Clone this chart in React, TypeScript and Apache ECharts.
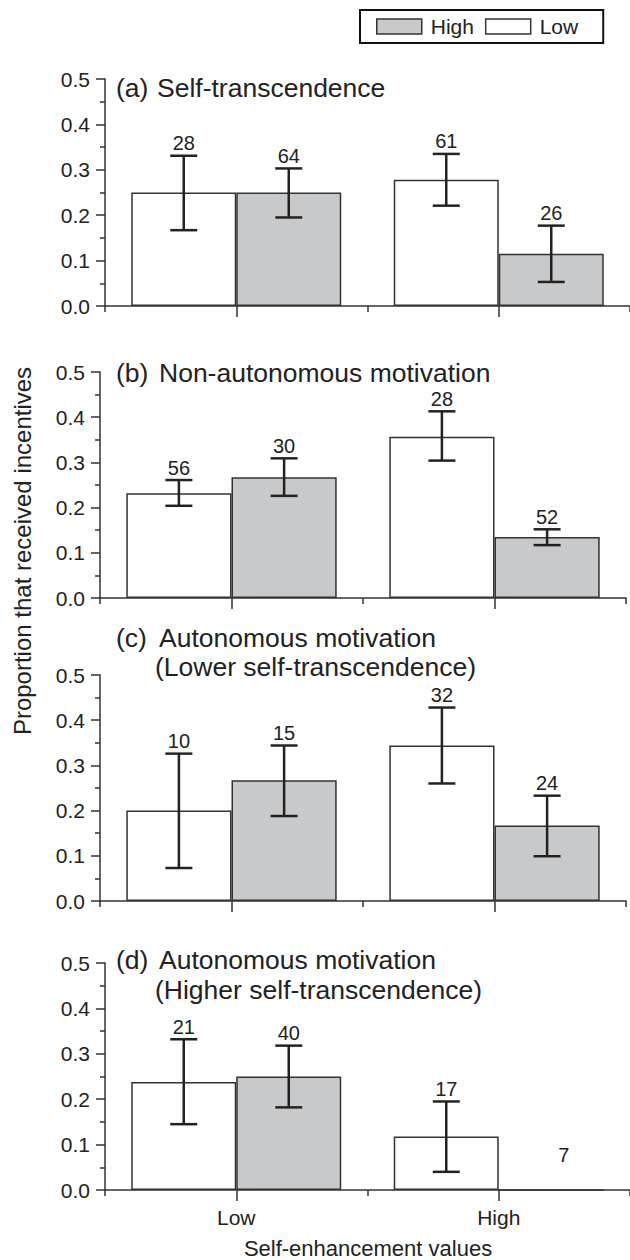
import React, { useEffect, useRef } from "react";
import * as echarts from "echarts";

const FONT = '"Liberation Sans", Arial, Helvetica, sans-serif';
const INK = "#222";
const GRAY = "#c8c9cb";

const categories = ["Low", "High"];
const yTicks = [0, 0.1, 0.2, 0.3, 0.4, 0.5];

// (a) Self-transcendence
const aLowMean = [0.25, 0.278];
const aHighMean = [0.25, 0.115];
const aLowErr = [[0.167, 0.331], [0.221, 0.335]];
const aHighErr = [[0.195, 0.303], [0.053, 0.177]];
const aLowN = [28, 61];
const aHighN = [64, 26];

// (b) Non-autonomous motivation
const bLowMean = [0.232, 0.357];
const bHighMean = [0.267, 0.135];
const bLowErr = [[0.204, 0.261], [0.304, 0.413]];
const bHighErr = [[0.226, 0.309], [0.117, 0.152]];
const bLowN = [56, 28];
const bHighN = [30, 52];

// (c) Autonomous motivation (Lower self-transcendence)
const cLowMean = [0.2, 0.344];
const cHighMean = [0.267, 0.167];
const cLowErr = [[0.073, 0.326], [0.26, 0.428]];
const cHighErr = [[0.188, 0.344], [0.099, 0.233]];
const cLowN = [10, 32];
const cHighN = [15, 24];

// (d) Autonomous motivation (Higher self-transcendence)
const dLowMean = [0.238, 0.118];
const dHighMean = [0.25, 0];
const dLowErr = [[0.145, 0.332], [0.04, 0.195]];
const dHighErr: (number[] | null)[] = [[0.182, 0.318], null];
const dLowN = [21, 17];
const dHighN = [40, 7];
const noErrLabelValue = 0.077;

const panels = [
  { lowMean: aLowMean, highMean: aHighMean, lowErr: aLowErr, highErr: aHighErr, lowN: aLowN, highN: aHighN },
  { lowMean: bLowMean, highMean: bHighMean, lowErr: bLowErr, highErr: bHighErr, lowN: bLowN, highN: bHighN },
  { lowMean: cLowMean, highMean: cHighMean, lowErr: cLowErr, highErr: cHighErr, lowN: cLowN, highN: cHighN },
  { lowMean: dLowMean, highMean: dHighMean, lowErr: dLowErr, highErr: dHighErr, lowN: dLowN, highN: dHighN },
];

const grids = [
  { left: 105, top: 79, width: 526, height: 227 },
  { left: 100, top: 372, width: 526, height: 226 },
  { left: 100, top: 675, width: 526, height: 226 },
  { left: 105, top: 963, width: 526, height: 227 },
];

const titleLines = [
  [["(a)", 116, 88], ["Self-transcendence", 157, 88]],
  [["(b)", 116, 373], ["Non-autonomous motivation", 159, 373]],
  [["(c)", 116, 638], ["Autonomous motivation", 159, 638], ["(Lower self-transcendence)", 155, 667]],
  [["(d)", 116, 960], ["Autonomous motivation", 159, 960], ["(Higher self-transcendence)", 155, 990]],
];

function renderErr(params: any, api: any) {
  const cat = api.value(0);
  const lo = api.value(1);
  const hi = api.value(2);
  const side = api.value(3);
  const n = api.value(4);
  const band = api.size([1, 0])[0];
  const barW = (band * 0.8) / 2;
  const base = api.coord([cat, 0]);
  const x = base[0] + (side * barW) / 2;
  const children: any[] = [];
  const lineStyle = { stroke: INK, lineWidth: 2.5 };
  const cap = 13.5;
  if (!isNaN(lo) && !isNaN(hi)) {
    const yLo = api.coord([cat, lo])[1];
    const yHi = api.coord([cat, hi])[1];
    children.push({ type: "line", shape: { x1: x, y1: yLo, x2: x, y2: yHi }, style: lineStyle });
    children.push({ type: "line", shape: { x1: x - cap, y1: yLo, x2: x + cap, y2: yLo }, style: lineStyle });
    children.push({ type: "line", shape: { x1: x - cap, y1: yHi, x2: x + cap, y2: yHi }, style: lineStyle });
    children.push({
      type: "text",
      x: x,
      y: yHi - 12.5,
      style: { text: String(n), fill: INK, fontSize: 20, fontFamily: FONT, align: "center", verticalAlign: "middle" },
    });
  } else {
    const yL = api.coord([cat, noErrLabelValue])[1];
    children.push({
      type: "text",
      x: x + barW * 0.12,
      y: yL,
      style: { text: String(n), fill: INK, fontSize: 20, fontFamily: FONT, align: "center", verticalAlign: "middle" },
    });
  }
  return { type: "group", children };
}

export default function App() {
  const ref = useRef<HTMLDivElement>(null);
  useEffect(() => {
    if (!ref.current) return;
    const chart = echarts.init(ref.current, undefined, { renderer: "svg" });
    const xAxes: any[] = [];
    const yAxes: any[] = [];
    const series: any[] = [];
    const axisLine = { show: true, lineStyle: { color: "#333", width: 1.5 } };
    grids.forEach((g, i) => {
      xAxes.push({
        type: "category",
        gridIndex: i,
        data: categories,
        position: "bottom",
        axisLine,
        axisTick: { show: true, alignWithLabel: false, length: 6, lineStyle: { color: "#333", width: 1.5 } },
        axisLabel: { show: false },
        splitLine: { show: false },
      });
      xAxes.push({
        type: "category",
        gridIndex: i,
        data: categories,
        position: "bottom",
        axisLine: { show: false },
        axisTick: { show: true, alignWithLabel: true, length: 11, lineStyle: { color: "#333", width: 1.5 } },
        axisLabel: { show: i === 3, fontSize: 21, color: INK, fontFamily: FONT, margin: 17 },
        splitLine: { show: false },
      });
      yAxes.push({
        type: "value",
        gridIndex: i,
        min: yTicks[0],
        max: yTicks[yTicks.length - 1],
        interval: 0.1,
        axisLine,
        axisTick: { show: true, length: 9, lineStyle: { color: "#333", width: 1.5 } },
        minorTick: { show: true, splitNumber: 2, length: 5, lineStyle: { color: "#333", width: 1.5 } },
        splitLine: { show: false },
        minorSplitLine: { show: false },
        axisLabel: {
          fontSize: 21,
          color: INK,
          fontFamily: FONT,
          margin: 15,
          formatter: (v: number) => v.toFixed(1),
        },
      });
      const p = panels[i];
      series.push({
        type: "bar",
        name: "Low",
        xAxisIndex: 2 * i,
        yAxisIndex: i,
        data: p.lowMean,
        barGap: "0%",
        barCategoryGap: "20%",
        itemStyle: { color: "#ffffff", borderColor: "#333", borderWidth: 1.5 },
        emphasis: { disabled: true },
        silent: true,
      });
      series.push({
        type: "bar",
        name: "High",
        xAxisIndex: 2 * i,
        yAxisIndex: i,
        data: p.highMean,
        barGap: "0%",
        barCategoryGap: "20%",
        itemStyle: { color: GRAY, borderColor: "#333", borderWidth: 1.5 },
        emphasis: { disabled: true },
        silent: true,
      });
      const errData: any[] = [];
      categories.forEach((_, c) => {
        const le = p.lowErr[c];
        const he = p.highErr[c];
        errData.push([c, le ? le[0] : NaN, le ? le[1] : NaN, -1, p.lowN[c]]);
        errData.push([c, he ? he[0] : NaN, he ? he[1] : NaN, 1, p.highN[c]]);
      });
      series.push({
        type: "custom",
        name: "err" + i,
        xAxisIndex: 2 * i,
        yAxisIndex: i,
        data: errData,
        renderItem: renderErr,
        z: 10,
        silent: true,
        encode: { x: 0, y: [1, 2] },
      });
    });

    const graphics: any[] = [];
    titleLines.forEach((lines) => {
      lines.forEach(([t, x, y]) => {
        graphics.push({
          type: "text",
          x: x as number,
          y: y as number,
          style: { text: t as string, fill: INK, fontSize: 26.5, fontFamily: FONT, align: "left", verticalAlign: "middle" },
        });
      });
    });
    graphics.push({
      type: "text",
      x: 368,
      y: 1248,
      style: { text: "Self-enhancement values", fill: INK, fontSize: 22, fontFamily: FONT, align: "center", verticalAlign: "middle" },
    });
    graphics.push({
      type: "text",
      x: 22,
      y: 551,
      rotation: Math.PI / 2,
      style: { text: "Proportion that received incentives", fill: INK, fontSize: 24, fontFamily: FONT, align: "center", verticalAlign: "middle" },
    });

    chart.setOption({
      animation: false,
      backgroundColor: "#ffffff",
      legend: {
        data: ["High", "Low"],
        left: 360,
        top: 10,
        icon: "rect",
        itemWidth: 45,
        itemHeight: 15,
        itemGap: 11,
        borderColor: "#111",
        borderWidth: 2,
        padding: [6, 25, 6, 16],
        selectedMode: false,
        itemStyle: { borderColor: "#333", borderWidth: 1.5 },
        textStyle: { fontSize: 21, color: INK, fontFamily: FONT, padding: [0, 0, 0, 4] },
      },
      grid: grids.map((g) => ({ ...g, containLabel: false })),
      xAxis: xAxes,
      yAxis: yAxes,
      series,
      graphic: graphics,
    });
    return () => chart.dispose();
  }, []);
  return <div ref={ref} style={{ position: "absolute", left: 0, top: 0, width: 630, height: 1260 }} />;
}
